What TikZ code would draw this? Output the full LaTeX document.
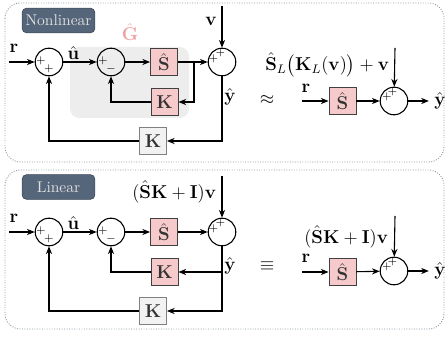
\documentclass[tikz,border=0pt]{standalone}
\usepackage{amsmath}
\usetikzlibrary{arrows.meta}
\definecolor{boxpink}{HTML}{F6CACA}
\definecolor{gainpink}{HTML}{F0A0A0}
\definecolor{tagblue}{HTML}{56667A}
\definecolor{panelgray}{HTML}{8C99A6}

\begin{document}
\begin{tikzpicture}[x=0.645pt, y=-0.645pt,
    every node/.append style={font=\large},
    sig/.style={draw, line width=0.7pt, circle, minimum size=17.8pt, inner sep=0pt},
    blk/.style={draw=black!75, line width=0.6pt, fill=boxpink, minimum size=17.4pt, inner sep=0pt, text=black!80},
    outk/.style={draw=black!50, line width=0.6pt, fill=black!5, minimum size=17.4pt, inner sep=0pt, text=black!80},
    tag/.style={font=\normalsize, fill=tagblue, draw=tagblue!70!black, rounded corners=3pt, text=white!88!black, minimum width=47pt, minimum height=16pt, inner sep=0pt},
    panel/.style={draw=panelgray, densely dotted, line width=0.6pt, rounded corners=10pt},
    sgn/.style={font=\scriptsize, inner sep=0pt},
    wire/.style={line width=0.7pt},
    >={Stealth[length=5pt, width=4pt]}]
    \useasboundingbox (0,0) rectangle (447,337);

    % Rahmen der beiden Felder
    \draw[panel] (5,3) rectangle (444,162);
    \draw[panel] (5,170) rectangle (444,329);
    \node[tag] (tagnl) at (58.5,20.5) {Nonlinear};
    \node[tag] (taglin) at (58.5,187) {Linear};

    % ---------- oben: nichtlinear ----------
    \fill[black!7, rounded corners=6pt] (70,47) rectangle (189,118);
    \node[text=gainpink] (ghat) at (130,32) {$\hat{\mathbf{G}}$};

    \node[sig] (s1) at (49,62) {};
    \node[sig] (s2) at (111,62) {};
    \node[blk] (S) at (164,62) {$\hat{\mathbf{S}}$};
    \node[blk] (Ki) at (164.5,102) {$\mathbf{K}$};
    \node[sig] (s3) at (222,62) {};
    \node[outk] (Ko) at (153,141) {$\mathbf{K}$};
    \coordinate (rin) at (9,62);
    \coordinate (vin) at (222,6);
    \coordinate (b1) at (194,62);

    \node (rlab) at (14,48) {$\mathbf{r}$};
    \node (vlab) at (211,21) {$\mathbf{v}$};
    \node (ylab) at (230,97) {$\hat{\mathbf{y}}$};

    \draw[wire,->] (rin) -- (s1);
    \draw[wire,->] (s1) -- node[above, pos=0.3, inner sep=1pt] {$\hat{\mathbf{u}}$} (s2);
    \draw[wire,->] (s2) -- (S);
    \draw[wire,->] (S) -- (s3);
    \draw[wire,->] (b1) |- (Ki);
    \draw[wire,->] (Ki) -| (s2);
    \draw[wire,->] (vin) -- (s3);
    \draw[wire,->] (s3) |- (Ko);
    \draw[wire,->] (Ko) -| (s1);

    \node[sgn] at ([shift={(-8,-1)}]s1) {$+$};
    \node[sgn] at ([shift={(0,7)}]s1) {$+$};
    \node[sgn] at ([shift={(-8,-1)}]s2) {$+$};
    \node[sgn] at ([shift={(0,7)}]s2) {$-$};
    \node[sgn] at ([shift={(-8.5,-3.5)}]s3) {$+$};
    \node[sgn] at ([shift={(-1.5,-9.5)}]s3) {$+$};

    \node (approx) at (267,100) {$\approx$};

    \node[blk] (Sr) at (342.5,101) {$\hat{\mathbf{S}}$};
    \node[sig] (s4) at (394,101) {};
    \node (y2) at (440,101) {$\hat{\mathbf{y}}$};
    \coordinate (rin2) at (302,101);
    \coordinate (vin2) at (395,48);
    \node (rlab2) at (306,88) {$\mathbf{r}$};
    \node[left, inner sep=1pt] (flab) at (391,65) {$\hat{\mathbf{S}}_L\big(\mathbf{K}_L(\mathbf{v})\big)+\mathbf{v}$};

    \draw[wire,->] (rin2) -- (Sr);
    \draw[wire,->] (Sr) -- (s4);
    \draw[wire,->] (vin2) -- (s4);
    \draw[wire,->] (s4) -- (y2);
    \node[sgn] at ([shift={(-7,-4)}]s4) {$+$};
    \node[sgn] at ([shift={(-1.5,-9.5)}]s4) {$+$};

    % ---------- unten: linear ----------
    \node[sig] (s1b) at (49,232) {};
    \node[sig] (s2b) at (111,232) {};
    \node[blk] (Sb) at (164,232) {$\hat{\mathbf{S}}$};
    \node[blk] (Kib) at (164.5,272) {$\mathbf{K}$};
    \node[sig] (s3b) at (222,232) {};
    \node[outk] (Kob) at (153,311) {$\mathbf{K}$};
    \coordinate (rinb) at (9,232);
    \coordinate (vinb) at (222,176);

    \node (rlabb) at (14,218) {$\mathbf{r}$};
    \node[left, inner sep=1pt] (vlabb) at (218,192) {$(\hat{\mathbf{S}}\mathbf{K}+\mathbf{I})\mathbf{v}$};
    \node (ylabb) at (230,266) {$\hat{\mathbf{y}}$};

    \draw[wire,->] (rinb) -- (s1b);
    \draw[wire,->] (s1b) -- node[above, pos=0.3, inner sep=1pt] {$\hat{\mathbf{u}}$} (s2b);
    \draw[wire,->] (s2b) -- (Sb);
    \draw[wire,->] (Sb) -- (s3b);
    \draw[wire,->] (vinb) -- (s3b);
    \draw[wire,->] (s3b) |- (Kib);
    \draw[wire,->] (s3b) |- (Kob);
    \draw[wire,->] (Kib) -| (s2b);
    \draw[wire,->] (Kob) -| (s1b);

    \node[sgn] at ([shift={(-8,-1)}]s1b) {$+$};
    \node[sgn] at ([shift={(0,7)}]s1b) {$+$};
    \node[sgn] at ([shift={(-8,-1)}]s2b) {$+$};
    \node[sgn] at ([shift={(0,7)}]s2b) {$-$};
    \node[sgn] at ([shift={(-8.5,-3.5)}]s3b) {$+$};
    \node[sgn] at ([shift={(-1.5,-9.5)}]s3b) {$+$};

    \node (equiv) at (267,266) {$\equiv$};

    \node[blk] (Srb) at (342.5,272) {$\hat{\mathbf{S}}$};
    \node[sig] (s4b) at (394,271) {};
    \node (y2b) at (440,271) {$\hat{\mathbf{y}}$};
    \coordinate (rin2b) at (302,272);
    \coordinate (vin2b) at (395,216);
    \node (rlab2b) at (306,258) {$\mathbf{r}$};
    \node[left, inner sep=1pt] (flabb) at (390,237) {$(\hat{\mathbf{S}}\mathbf{K}+\mathbf{I})\mathbf{v}$};

    \draw[wire,->] (rin2b) -- (Srb);
    \draw[wire,->] (Srb) -- (s4b);
    \draw[wire,->] (vin2b) -- (s4b);
    \draw[wire,->] (s4b) -- (y2b);
    \node[sgn] at ([shift={(-7,-4)}]s4b) {$+$};
    \node[sgn] at ([shift={(-1.5,-9.5)}]s4b) {$+$};
\end{tikzpicture}
\end{document}
